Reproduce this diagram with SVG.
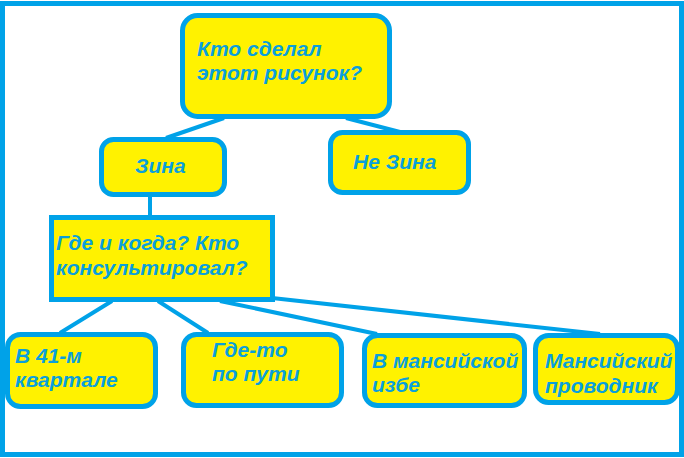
<svg xmlns="http://www.w3.org/2000/svg" width="684" height="458" viewBox="0 0 684 458">
<style>
.node{fill:#fff200;stroke:#00a2e8;stroke-width:5}
.edge{stroke:#00a2e8;stroke-width:4;fill:none}
text{font-family:"Liberation Sans",Arial,sans-serif;font-weight:bold;font-style:italic;font-size:21px;fill:#0a9fdc}
</style>
<rect x="2.5" y="3.5" width="679" height="451" fill="#ffffff" stroke="#00a2e8" stroke-width="5"/>
<g id="connectors">
<line class="edge" x1="224" y1="118" x2="166" y2="138"/>
<line class="edge" x1="346" y1="118" x2="400" y2="132"/>
<line class="edge" x1="150" y1="196" x2="150" y2="215"/>
<line class="edge" x1="112" y1="301" x2="60" y2="333"/>
<line class="edge" x1="158" y1="301" x2="208" y2="333"/>
<line class="edge" x1="220" y1="301" x2="377" y2="334"/>
<line class="edge" x1="272" y1="298" x2="600" y2="334"/>
</g>
<g id="n-top"><rect class="node" x="182.5" y="15.5" width="207" height="101" rx="15"/><text x="197" y="56">Кто сделал</text><text x="197" y="80">этот рисунок?</text></g>
<g id="n-zina"><rect class="node" x="101.5" y="139.5" width="123" height="55" rx="12"/><text x="135" y="173">Зина</text></g>
<g id="n-nezina"><rect class="node" x="330.5" y="132.5" width="138" height="60" rx="12"/><text x="353" y="169">Не Зина</text></g>
<g id="n-where"><rect class="node" x="51.5" y="217.5" width="221" height="82"/><text x="56" y="250">Где и когда? Кто</text><text x="56" y="275">консультировал?</text></g>
<g id="n-b1"><rect class="node" x="7.5" y="334.5" width="148" height="72" rx="13"/><text x="15" y="363">В 41-м</text><text x="15" y="387">квартале</text></g>
<g id="n-b2"><rect class="node" x="183.5" y="334.5" width="158" height="71" rx="13"/><text x="212" y="357">Где-то</text><text x="212" y="381">по пути</text></g>
<g id="n-b3"><rect class="node" x="364.5" y="335.5" width="160" height="70" rx="13"/><text x="372" y="368">В мансийской</text><text x="372" y="392">избе</text></g>
<g id="n-b4"><rect class="node" x="535.5" y="335.5" width="142" height="67" rx="13"/><text x="545" y="368">Мансийский</text><text x="545" y="393">проводник</text></g>
</svg>
